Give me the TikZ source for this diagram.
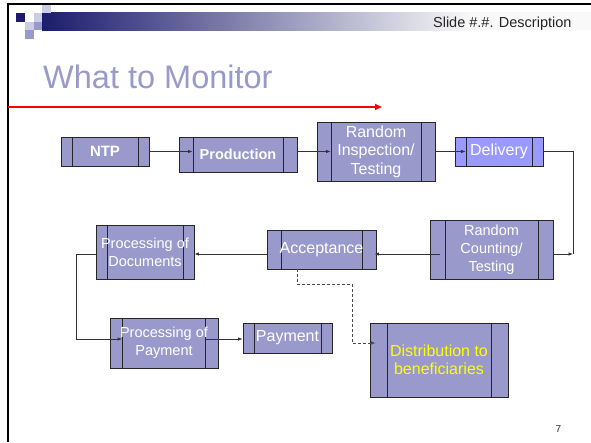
\documentclass[tikz,border=0pt]{standalone}
\usepackage{fontspec}
\setmainfont{Liberation Sans}
\usetikzlibrary{arrows.meta,calc}
\definecolor{boxc}{HTML}{9999CC}
\definecolor{delc}{HTML}{9999FF}
\definecolor{navyc}{HTML}{1C1C6E}
\definecolor{lavc}{HTML}{CCCCE6}
\definecolor{titlec}{HTML}{9999CC}
\definecolor{distc}{HTML}{FFFF00}
\begin{document}
\begin{tikzpicture}[x=1pt,y=-1pt,
  stripw/.store in=\stripw, stripw=10pt,
  proc/.style={draw=black!85, line width=0.9pt, fill=boxc, inner sep=0pt, text=white,
    align=center, font=\fontsize{16}{18.5}\selectfont,
    path picture={\draw[black!85,line width=0.9pt]
      ([xshift=\stripw]path picture bounding box.north west) -- ([xshift=\stripw]path picture bounding box.south west)
      ([xshift=-\stripw]path picture bounding box.north east) -- ([xshift=-\stripw]path picture bounding box.south east);}},
  conn/.style={draw=black!80, line width=0.7pt, -{Latex[length=4.5pt,width=3.5pt]}},
  plainconn/.style={draw=black!80, line width=0.7pt},
  dconn/.style={draw=black!70, line width=0.7pt, dash pattern=on 3pt off 2pt, -{Latex[length=4.5pt,width=3.5pt]}},
  small/.style={font=\fontsize{14.5}{18}\selectfont}
]
\useasboundingbox (0,0) rectangle (591,442);
\fill[white] (0,0) rectangle (591,442);

% header bar
\shade[left color=navyc, right color=white!95!gray] (42,12) rectangle (470,30);
\fill[white!95!gray] (470,12) rectangle (591,30);
% squares
\fill[navyc] (16,13) rectangle (25,22);
\fill[lavc] (33.5,13) rectangle (42,22);
\fill[lavc] (42,5) rectangle (50.5,13);
\fill[lavc] (25,22) rectangle (33.5,30);
\fill[boxc] (33.5,22) rectangle (42,30);
\fill[boxc] (25,30) rectangle (33.5,38.5);
% frame
\draw[black, line width=2pt] (8,442) -- (8,4) -- (591,4);

\node[anchor=base east, font=\fontsize{14.5}{16}\selectfont, text=black!85] (hdr) at (575,27.5) {Slide \#.\#. Description};
\node[anchor=base west, inner sep=0pt, font=\fontsize{32.5}{36}\selectfont, text=titlec] (title) at (43,88) {What to Monitor};
\coordinate (rl) at (8,107);
\coordinate (rr) at (382,107);
\draw[red, line width=2pt, -{Triangle[length=7pt,width=6pt]}] (rl) -- (rr);

% boxes
\node[proc, minimum width=88pt, minimum height=29pt, stripw=11pt, font=\bfseries\fontsize{15}{18}\selectfont] (ntp) at (105,151.5) {NTP};
\node[proc, minimum width=118pt, minimum height=35pt, stripw=14pt, font=\bfseries\fontsize{14.5}{18}\selectfont] (prod) at (238,154.5) {Production};
\node[proc, minimum width=118pt, minimum height=59pt, stripw=14pt] (rit) at (376,151.5) {Random\\Inspection/\\Testing};
\node[proc, fill=delc, minimum width=88pt, minimum height=29pt, stripw=11pt] (del) at (499,151.5) {Delivery};
\node[proc, small, minimum width=123pt, minimum height=59pt, stripw=15pt] (rct) at (491.5,249.5) {Random\\Counting/\\Testing};
\node[proc, minimum width=109pt, minimum height=39pt, stripw=14pt] (acc) at (321.5,249.5) {Acceptance};
\node[proc, small, minimum width=98pt, minimum height=54pt, stripw=11pt] (pod) at (145,252) {Processing of\\Documents};
\node[proc, small, minimum width=108pt, minimum height=50pt, stripw=12.5pt] (pop) at (164,343) {Processing of\\Payment};
\node[proc, minimum width=89pt, minimum height=30pt, stripw=11pt] (pay) at (287.5,338) {Payment};
\node[proc, text=distc, minimum width=138pt, minimum height=74pt, stripw=17pt] (dist) at (439,360) {Distribution to\\beneficiaries};

\node[anchor=base, inner sep=0pt, font=\fontsize{10}{12}\selectfont, text=black!80] (pg) at (558.5,432) {7};

% connectors
\coordinate (r1) at (0,151.5);
\coordinate (r2) at (0,254);
\coordinate (r3) at (0,339);
\coordinate (c1) at (573,254);
\coordinate (c2) at (76,254);
\coordinate (d1) at (297,284);
\coordinate (d2) at (352,284);
\coordinate (d3) at (352,343);

\draw[conn] (ntp.east) -- ([xshift=14pt]prod.west |- ntp.east);
\draw[conn] (prod.east |- r1) -- ([xshift=14pt]rit.west |- r1);
\draw[conn] (rit.east |- r1) -- ([xshift=11pt]del.west |- r1);
\draw[plainconn] (del.east) -| (c1);
\draw[conn] (rct.east |- c1) -- (c1);
\draw[conn] ([xshift=10pt]rct.west |- r2) -- ([xshift=-2pt]acc.east |- r2);
\draw[conn] (acc.west |- r2) -- (pod.east |- r2);
\draw[conn] (pod.west |- r2) -- (c2) |- ([xshift=12.5pt]pop.west |- r3);
\draw[conn] ([xshift=-12pt]pop.east |- r3) -- (pay.west |- r3);
\draw[dconn] (acc.south -| d1) -- (d1) -- (d2) -- (d3) -- ([xshift=6pt]dist.west |- d3);
\end{tikzpicture}
\end{document}
